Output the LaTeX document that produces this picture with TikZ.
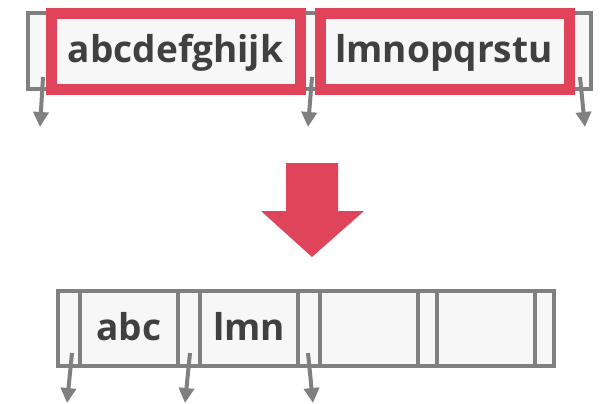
\documentclass[tikz,border=0pt]{standalone}
\usepackage{fontspec}
\setmainfont{Open Sans}
\usetikzlibrary{arrows.meta}
\definecolor{cellgray}{HTML}{808080}
\definecolor{cellfill}{HTML}{F7F7F7}
\definecolor{hilite}{HTML}{E0445A}
\definecolor{ink}{HTML}{404040}
\begin{document}
\begin{tikzpicture}[x=1pt,y=-1pt,
  cellrow/.style={draw=cellgray, fill=cellfill, line width=4pt},
  divider/.style={draw=cellgray, line width=4pt},
  hibox/.style={draw=hilite, fill=cellfill, line width=11pt, inner sep=0pt, outer sep=0pt},
  word/.style={text=ink, font=\fontsize{37}{40}\selectfont\bfseries, inner sep=0pt, anchor=base},
  pointer/.style={draw=cellgray, line width=4pt, -{Triangle[width=15pt,length=15pt]}}]
\useasboundingbox (0,0) rectangle (600,404);

% ---- top row: two highlighted strings over the slot array
\path[cellrow] (28,13) rectangle (591,89);
\node[hibox, minimum width=249pt, minimum height=76pt] (w1) at (175.5,52) {};
\node[hibox, minimum width=249pt, minimum height=76pt] (w2) at (445,52) {};
\node[word] (t1) at (175.5,63) {abcdefghijk};
\node[word] (t2) at (444,63) {lmnopqrstu};

\coordinate (p1) at (43,77);   \coordinate (q1) at (40,127);
\coordinate (p2) at (312,77);  \coordinate (q2) at (308,127);
\coordinate (p3) at (580,77);  \coordinate (q3) at (585,127);
\draw[pointer] (p1) -- (q1);
\draw[pointer] (p2) -- (q2);
\draw[pointer] (p3) -- (q3);

% ---- big down arrow
\fill[hilite] (286,163) -- (338,163) -- (338,211) -- (364,211) -- (312,257)
  -- (261,211) -- (286,211) -- cycle;

% ---- bottom row: truncated strings in fixed slots
\path[cellrow] (58,291) rectangle (554,366);
\foreach \x in {80,178,200,298,320,418,437,535}
  \draw[divider] (\x,291) -- (\x,366);
\node[word] (b1) at (129,340) {abc};
\node[word] (b2) at (249,340) {lmn};

\coordinate (r1) at (72,353);  \coordinate (s1) at (67,403);
\coordinate (r2) at (190,353); \coordinate (s2) at (185,403);
\coordinate (r3) at (308,353); \coordinate (s3) at (313,403);
\draw[pointer] (r1) -- (s1);
\draw[pointer] (r2) -- (s2);
\draw[pointer] (r3) -- (s3);
\end{tikzpicture}
\end{document}
